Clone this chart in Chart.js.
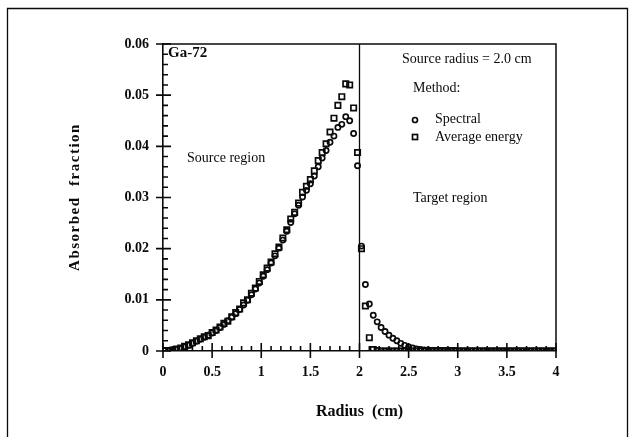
<!DOCTYPE html>
<html>
<head>
<meta charset="utf-8">
<script src="https://cdn.jsdelivr.net/npm/chart.js@4/dist/chart.umd.min.js"></script>
<style>
  body { margin: 0; background: #fff; }
  canvas { display: block; }
</style>
</head>
<body>
<canvas id="ga72" width="637" height="437"></canvas>
<script>
// radii (cm) inside the source sphere and outside it
const sourceRadius = [
    0.02, 0.06, 0.10, 0.14, 0.18, 0.22, 0.26, 0.30, 0.34, 0.38,
    0.42, 0.46, 0.50, 0.54, 0.58, 0.62, 0.66, 0.70, 0.74, 0.78,
    0.82, 0.86, 0.90, 0.94, 0.98, 1.02, 1.06, 1.10, 1.14, 1.18,
    1.22, 1.26, 1.30, 1.34, 1.38, 1.42, 1.46, 1.50, 1.54, 1.58,
    1.62, 1.66, 1.70, 1.74, 1.78, 1.82, 1.86, 1.90, 1.94, 1.98
];
const targetRadius = [
    2.02, 2.06, 2.10, 2.14, 2.18, 2.22, 2.26, 2.30, 2.34, 2.38,
    2.42, 2.46, 2.50, 2.54, 2.58, 2.62, 2.66, 2.70, 2.74, 2.78,
    2.82, 2.86, 2.90, 2.94, 2.98, 3.02, 3.06, 3.10, 3.14, 3.18,
    3.22, 3.26, 3.30, 3.34, 3.38, 3.42, 3.46, 3.50, 3.54, 3.58,
    3.62, 3.66, 3.70, 3.74, 3.78, 3.82, 3.86, 3.90, 3.94, 3.98
];

// absorbed fraction, spectral method
const spectralSource = [
    0.0001, 0.0001, 0.0002, 0.0003, 0.0005, 0.0008, 0.0011, 0.0015, 0.0019, 0.0023,
    0.0027, 0.0031, 0.0035, 0.0040, 0.0046, 0.0052, 0.0059, 0.0066, 0.0073, 0.0081,
    0.0090, 0.0099, 0.0110, 0.0121, 0.0133, 0.0146, 0.0159, 0.0172, 0.0186, 0.0201,
    0.0217, 0.0234, 0.0251, 0.0268, 0.0285, 0.0301, 0.0314, 0.0327, 0.0342, 0.0360,
    0.0377, 0.0392, 0.0408, 0.0420, 0.0437, 0.0443, 0.0458, 0.0450, 0.0425, 0.0362
];
const spectralTarget = [
    0.0205, 0.0130, 0.0092, 0.0070, 0.0057, 0.0046, 0.0038, 0.0031, 0.0025, 0.0020,
    0.0015, 0.0011, 0.0008, 0.0006, 0.0004, 0.0003, 0.0002, 0.0002, 0.0001, 0.0001,
    0.0001, 0.0001, 0.0001, 0.0001, 0.0001, 0, 0, 0, 0, 0,
    0, 0, 0, 0, 0, 0, 0, 0, 0, 0,
    0, 0, 0, 0, 0, 0, 0, 0, 0, 0
];

// absorbed fraction, average energy method
const avgSource = [
    0.0001, 0.0001, 0.0002, 0.0004, 0.0006, 0.0009, 0.0012, 0.0016, 0.0020, 0.0024,
    0.0028, 0.0030, 0.0036, 0.0041, 0.0047, 0.0054, 0.0058, 0.0067, 0.0075, 0.0082,
    0.0094, 0.0100, 0.0113, 0.0123, 0.0136, 0.0149, 0.0162, 0.0174, 0.0190, 0.0203,
    0.0221, 0.0237, 0.0258, 0.0271, 0.0289, 0.0310, 0.0322, 0.0335, 0.0352, 0.0372,
    0.0388, 0.0405, 0.0428, 0.0455, 0.0480, 0.0497, 0.0522, 0.0520, 0.0475, 0.0388
];
const avgTarget = [
    0.0200, 0.0088, 0.0026, 0.0003, 0.0001, 0, 0, 0, 0, 0,
    0, 0, 0, 0, 0, 0, 0, 0, 0, 0,
    0, 0, 0, 0, 0, 0, 0, 0, 0, 0,
    0, 0, 0, 0, 0, 0, 0, 0, 0, 0,
    0, 0, 0, 0, 0, 0, 0, 0, 0, 0
];

const boundaryX = [2, 2];
const boundaryY = [0, 0.06];

const xTicks = [0, 0.5, 1, 1.5, 2, 2.5, 3, 3.5, 4];
const xTickLabels = ['0', '0.5', '1', '1.5', '2', '2.5', '3', '3.5', '4'];
const yTicks = [0, 0.01, 0.02, 0.03, 0.04, 0.05, 0.06];
const yTickLabels = ['0', '0.01', '0.02', '0.03', '0.04', '0.05', '0.06'];

const radius = sourceRadius.concat(targetRadius);
const toPoints = (xs, ys) => xs.map((x, i) => ({ x: x, y: ys[i] }));

const ink = '#0a0a0a';
const serif = 'Liberation Serif, Times New Roman, serif';

// ticks in and out of the axes, the frame, and the text notes
const decorations = {
    id: 'decorations',
    afterDraw(chart) {
        const ctx = chart.ctx;
        const x = chart.scales.x, y = chart.scales.y;
        const a = chart.chartArea;
        ctx.save();
        ctx.strokeStyle = ink;
        ctx.lineWidth = 1.3;

        // outer frame
        ctx.beginPath();
        ctx.moveTo(7.5, 437);
        ctx.lineTo(7.5, 8.5);
        ctx.lineTo(627.5, 8.5);
        ctx.lineTo(627.5, 437);
        ctx.stroke();

        // plot box top and right
        ctx.lineWidth = 1.5;
        ctx.beginPath();
        ctx.moveTo(a.left, a.top);
        ctx.lineTo(a.right, a.top);
        ctx.lineTo(a.right, a.bottom);
        ctx.stroke();

        ctx.lineWidth = 1.6;
        ctx.beginPath();
        for (let v = 0; v <= 40; v++) {
            const px = x.getPixelForValue(v / 10);
            if (v % 5 === 0) {
                ctx.moveTo(px, a.bottom - 8);
                ctx.lineTo(px, a.bottom + 7);
            } else {
                ctx.moveTo(px, a.bottom - 5);
                ctx.lineTo(px, a.bottom);
            }
        }
        for (let v = 0; v <= 30; v++) {
            const py = y.getPixelForValue(v * 0.002);
            if (v % 5 === 0) {
                ctx.moveTo(a.left - 7, py);
                ctx.lineTo(a.left + 8, py);
            } else {
                ctx.moveTo(a.left, py);
                ctx.lineTo(a.left + 5, py);
            }
        }
        ctx.stroke();

        ctx.fillStyle = ink;
        ctx.textBaseline = 'middle';
        ctx.textAlign = 'left';
        ctx.font = 'bold 15px ' + serif;
        ctx.fillText('Ga-72', 168, 53);
        ctx.font = '14px ' + serif;
        ctx.fillText('Source region', 187, 158);
        ctx.fillText('Source radius = 2.0 cm', 402, 59);
        ctx.fillText('Method:', 413, 88);
        ctx.fillText('Spectral', 435, 119);
        ctx.fillText('Average energy', 435, 137);
        ctx.fillText('Target region', 413, 198);

        // legend markers
        ctx.lineWidth = 1.7;
        ctx.beginPath();
        ctx.arc(415, 120, 2.5, 0, Math.PI * 2);
        ctx.stroke();
        ctx.strokeRect(412.5, 134.5, 5, 5);

        // y axis title, letter spaced
        ctx.translate(75, 197);
        ctx.rotate(-Math.PI / 2);
        ctx.textAlign = 'center';
        ctx.font = 'bold 15px ' + serif;
        ctx.letterSpacing = '1.5px';
        ctx.fillText('Absorbed  fraction', 0, 0);
        ctx.restore();
    }
};

new Chart(document.getElementById('ga72'), {
    type: 'scatter',
    data: {
        datasets: [
            {
                label: 'Spectral',
                data: toPoints(radius, spectralSource.concat(spectralTarget)),
                pointStyle: 'circle',
                pointRadius: 2.6,
                pointBorderWidth: 1.7,
                borderColor: ink,
                backgroundColor: 'rgba(0,0,0,0)'
            },
            {
                label: 'Average energy',
                data: toPoints(radius, avgSource.concat(avgTarget)),
                pointStyle: 'rect',
                pointRadius: 3.8,
                pointBorderWidth: 1.7,
                borderColor: ink,
                backgroundColor: 'rgba(0,0,0,0)'
            },
            {
                label: 'Source boundary',
                type: 'line',
                data: toPoints(boundaryX, boundaryY),
                borderColor: ink,
                borderWidth: 1.3,
                pointRadius: 0
            }
        ]
    },
    options: {
        responsive: false,
        animation: false,
        layout: {
            padding: { left: 0, top: 44, right: 81, bottom: 0 }
        },
        scales: {
            x: {
                type: 'linear',
                min: 0,
                max: 4,
                afterFit: (s) => { s.height = 86; },
                afterBuildTicks: (s) => { s.ticks = xTicks.map(v => ({ value: v })); },
                grid: { display: false, drawTicks: false },
                border: { color: ink, width: 1.6 },
                ticks: {
                    padding: 13,
                    color: ink,
                    font: { family: serif, size: 14, weight: 'bold' },
                    callback: (v, i) => xTickLabels[i]
                },
                title: {
                    display: true,
                    text: 'Radius  (cm)',
                    color: ink,
                    font: { family: serif, size: 16, weight: 'bold' },
                    padding: { top: 0, bottom: 16 }
                }
            },
            y: {
                min: 0,
                max: 0.06,
                afterFit: (s) => { s.width = 163; },
                afterBuildTicks: (s) => { s.ticks = yTicks.map(v => ({ value: v })); },
                grid: { display: false, drawTicks: false },
                border: { color: ink, width: 1.6 },
                ticks: {
                    padding: 14,
                    color: ink,
                    font: { family: serif, size: 14, weight: 'bold' },
                    callback: (v, i) => yTickLabels[i]
                }
            }
        },
        plugins: {
            legend: { display: false },
            tooltip: { enabled: false }
        }
    },
    plugins: [decorations]
});
</script>
</body>
</html>
